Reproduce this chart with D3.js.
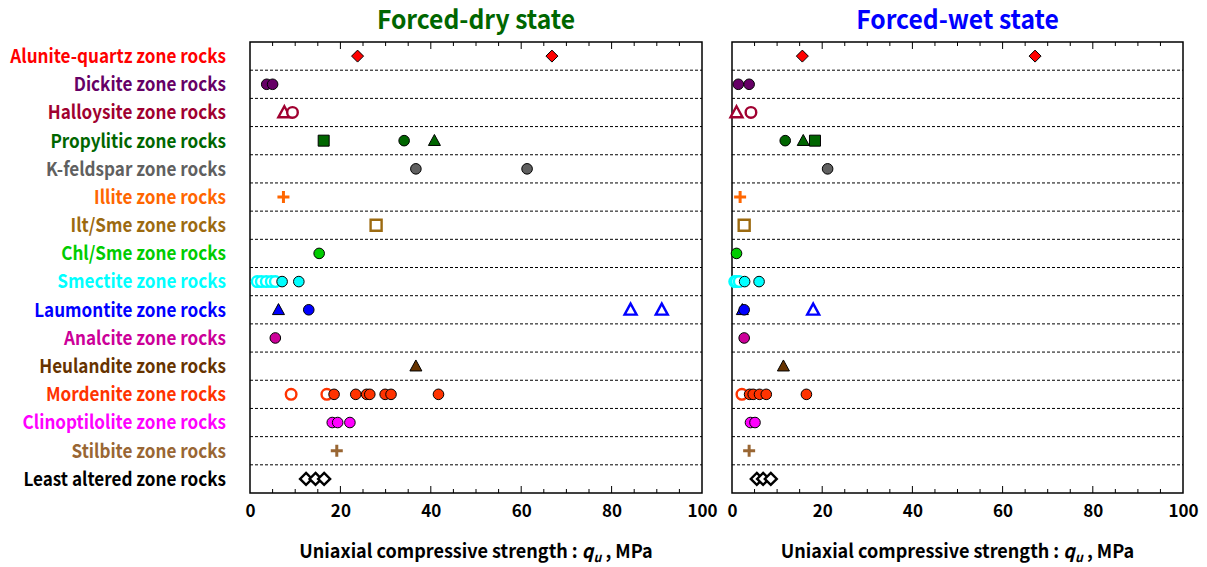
<!DOCTYPE html>
<html>
<head>
<meta charset="utf-8">
<script src="https://cdn.jsdelivr.net/npm/d3@7"></script>
<style>
  html, body { margin: 0; padding: 0; background: #fff; }
  svg text { font-family: "Noto Sans CJK JP", "Noto Sans", sans-serif; font-weight: 700; }
</style>
</head>
<body>
<svg id="chart" width="1207" height="567"></svg>
<script>
// Alteration zones, top to bottom
const zones = [
  "Alunite-quartz", "Dickite", "Halloysite", "Propylitic", "K-feldspar",
  "Illite", "Ilt/Sme", "Chl/Sme", "Smectite", "Laumontite", "Analcite",
  "Heulandite", "Mordenite", "Clinoptilolite", "Stilbite", "Least altered"
];
const zoneColors = [
  "#ff0000", "#660066", "#a00030", "#006600", "#606060",
  "#ff6600", "#9c6a10", "#00cc00", "#00ffff", "#0000ff", "#cc0099",
  "#663300", "#ff3300", "#ff00ff", "#996633", "#000000"
];
const xTicks = [0, 20, 40, 60, 80, 100];

// Uniaxial compressive strength (MPa): [zone, marker, hollow, value]
const dryPoints = [
  ["Alunite-quartz", "diamond", false, 23.8], ["Alunite-quartz", "diamond", false, 66.8],
  ["Dickite", "circle", false, 3.7], ["Dickite", "circle", false, 5.0],
  ["Halloysite", "triangle", true, 7.6], ["Halloysite", "circle", true, 9.4],
  ["Propylitic", "square", false, 16.3], ["Propylitic", "circle", false, 34.1], ["Propylitic", "triangle", false, 40.8],
  ["K-feldspar", "circle", false, 36.7], ["K-feldspar", "circle", false, 61.3],
  ["Illite", "plus", false, 7.4],
  ["Ilt/Sme", "square", true, 27.9],
  ["Chl/Sme", "circle", false, 15.3],
  ["Smectite", "circle", true, 1.6], ["Smectite", "circle", true, 2.5], ["Smectite", "circle", true, 3.6],
  ["Smectite", "circle", true, 4.7], ["Smectite", "circle", true, 5.6],
  ["Smectite", "circle", false, 7.1], ["Smectite", "circle", false, 10.8],
  ["Laumontite", "triangle", false, 6.3], ["Laumontite", "circle", false, 13.0],
  ["Laumontite", "triangle", true, 84.2], ["Laumontite", "triangle", true, 91.1],
  ["Analcite", "circle", false, 5.6],
  ["Heulandite", "triangle", false, 36.7],
  ["Mordenite", "circle", true, 9.1], ["Mordenite", "circle", true, 17.0],
  ["Mordenite", "circle", false, 18.6], ["Mordenite", "circle", false, 23.4],
  ["Mordenite", "circle", false, 25.8], ["Mordenite", "circle", false, 26.5],
  ["Mordenite", "circle", false, 29.9], ["Mordenite", "circle", false, 31.2],
  ["Mordenite", "circle", false, 41.7],
  ["Clinoptilolite", "circle", false, 18.2], ["Clinoptilolite", "circle", false, 19.4], ["Clinoptilolite", "circle", false, 22.1],
  ["Stilbite", "plus", false, 19.2],
  ["Least altered", "diamond", true, 12.4], ["Least altered", "diamond", true, 14.5], ["Least altered", "diamond", true, 16.4]
];

const wetPoints = [
  ["Alunite-quartz", "diamond", false, 15.6], ["Alunite-quartz", "diamond", false, 67.2],
  ["Dickite", "circle", false, 1.4], ["Dickite", "circle", false, 3.8],
  ["Halloysite", "triangle", true, 1.0], ["Halloysite", "circle", true, 4.2],
  ["Propylitic", "circle", false, 11.8], ["Propylitic", "triangle", false, 15.8], ["Propylitic", "square", false, 18.4],
  ["K-feldspar", "circle", false, 21.2],
  ["Illite", "plus", false, 1.8],
  ["Ilt/Sme", "square", true, 2.7],
  ["Chl/Sme", "circle", false, 1.0],
  ["Smectite", "circle", true, 0.6], ["Smectite", "circle", true, 1.0], ["Smectite", "circle", true, 1.6],
  ["Smectite", "circle", false, 2.8], ["Smectite", "circle", false, 6.0],
  ["Laumontite", "triangle", false, 2.3], ["Laumontite", "circle", false, 2.7],
  ["Laumontite", "triangle", true, 18.0],
  ["Analcite", "circle", false, 2.7],
  ["Heulandite", "triangle", false, 11.4],
  ["Mordenite", "circle", true, 2.2], ["Mordenite", "circle", false, 3.9],
  ["Mordenite", "circle", false, 4.7], ["Mordenite", "circle", false, 6.1],
  ["Mordenite", "circle", false, 7.6], ["Mordenite", "circle", false, 16.5],
  ["Clinoptilolite", "circle", false, 4.1], ["Clinoptilolite", "circle", false, 5.1],
  ["Stilbite", "plus", false, 3.8],
  ["Least altered", "diamond", true, 5.5], ["Least altered", "diamond", true, 6.9], ["Least altered", "diamond", true, 8.6]
];

const svg = d3.select("#chart");
const plotTop = 42, plotBottom = 493;
const panels = [
  { title: "Forced-dry state", titleColor: "#006600", x0: 250, x1: 702, points: dryPoints },
  { title: "Forced-wet state", titleColor: "#0000ff", x0: 732, x1: 1183, points: wetPoints }
];

const y = d3.scaleBand().domain(zones).range([plotTop, plotBottom]).padding(0);
const colorOf = d3.scaleOrdinal().domain(zones).range(zoneColors);

// Marker outlines, centred on the origin
function markerPath(kind) {
  switch (kind) {
    case "circle": return d3.symbol(d3.symbolCircle, Math.PI * 5.3 * 5.3)();
    case "square": return "M-5.5,-5.5H5.5V5.5H-5.5Z";
    case "diamond": return "M0,-6L6,0L0,6L-6,0Z";
    case "triangle": return "M0,-6.2L6,4.8H-6Z";
    case "plus": return "M-6,0H6M0,-6V6";
  }
}

// Zone labels on the left (tall, slightly condensed lettering)
svg.append("g").selectAll("text").data(zones).join("text")
  .attr("transform", d => `translate(226,${y(d) + y.bandwidth() / 2}) scale(0.9,1)`)
  .attr("dy", "0.36em")
  .attr("text-anchor", "end")
  .attr("font-size", 19)
  .attr("fill", d => colorOf(d))
  .text(d => d + " zone rocks");

panels.forEach(p => {
  const x = d3.scaleLinear().domain([0, 100]).range([p.x0, p.x1]);
  const cx = (p.x0 + p.x1) / 2;
  const g = svg.append("g");

  // Row separators
  g.append("g").selectAll("line").data(zones.slice(1)).join("line")
    .attr("x1", p.x0).attr("x2", p.x1)
    .attr("y1", d => y(d)).attr("y2", d => y(d))
    .attr("stroke", "#000").attr("stroke-width", 1)
    .attr("stroke-dasharray", "3,2");

  // Tick labels along the bottom edge
  const bottomAxis = d3.axisBottom(x).tickValues(xTicks).tickSize(0).tickPadding(12).tickFormat(d3.format("d"));
  const axisG = g.append("g").attr("transform", `translate(0,${plotBottom})`).call(bottomAxis);
  axisG.select(".domain").remove();
  axisG.selectAll("text")
    .attr("font-size", 17).attr("fill", "#000")
    .style("font-family", "'Noto Sans CJK JP', sans-serif").style("font-weight", 700);

  // Inward ticks on the bottom and top edges
  const minor = d3.range(5, 100, 5);
  [plotBottom, plotTop].forEach(edge => {
    const dir = edge === plotBottom ? -1 : 1;
    g.append("g").selectAll("line").data(minor).join("line")
      .attr("x1", d => x(d)).attr("x2", d => x(d))
      .attr("y1", edge).attr("y2", d => edge + dir * (d % 20 === 0 ? 7 : 4))
      .attr("stroke", "#000").attr("stroke-width", 1);
  });

  // Frame
  g.append("rect")
    .attr("x", p.x0).attr("y", plotTop)
    .attr("width", p.x1 - p.x0).attr("height", plotBottom - plotTop)
    .attr("fill", "none").attr("stroke", "#000").attr("stroke-width", 1.5);

  // Data markers
  g.append("g").selectAll("path").data(p.points).join("path")
    .attr("transform", d => `translate(${x(d[3])},${y(d[0]) + y.bandwidth() / 2})`)
    .attr("d", d => markerPath(d[1]))
    .attr("fill", d => (d[1] === "plus" ? "none" : d[2] ? "#fff" : colorOf(d[0])))
    .attr("stroke", d => (d[1] === "plus" || d[2] ? colorOf(d[0]) : "#000"))
    .attr("stroke-width", d => (d[1] === "plus" ? 3 : d[2] ? 2.4 : 1));

  // Panel title
  svg.append("text")
    .attr("transform", `translate(${cx},29) scale(0.95,1)`)
    .attr("text-anchor", "middle")
    .attr("font-size", 26)
    .attr("fill", p.titleColor)
    .text(p.title);

  // Axis title
  const t = svg.append("text")
    .attr("transform", `translate(${cx},558) scale(0.95,1)`)
    .attr("text-anchor", "middle")
    .attr("font-size", 19)
    .attr("fill", "#000");
  t.append("tspan").text("Uniaxial compressive strength : ");
  t.append("tspan").attr("font-style", "italic").text("q");
  t.append("tspan").attr("font-style", "italic").attr("font-size", 13).attr("dy", 4).text("u");
  t.append("tspan").attr("dy", -4).text(" , MPa");
});
</script>
</body>
</html>
